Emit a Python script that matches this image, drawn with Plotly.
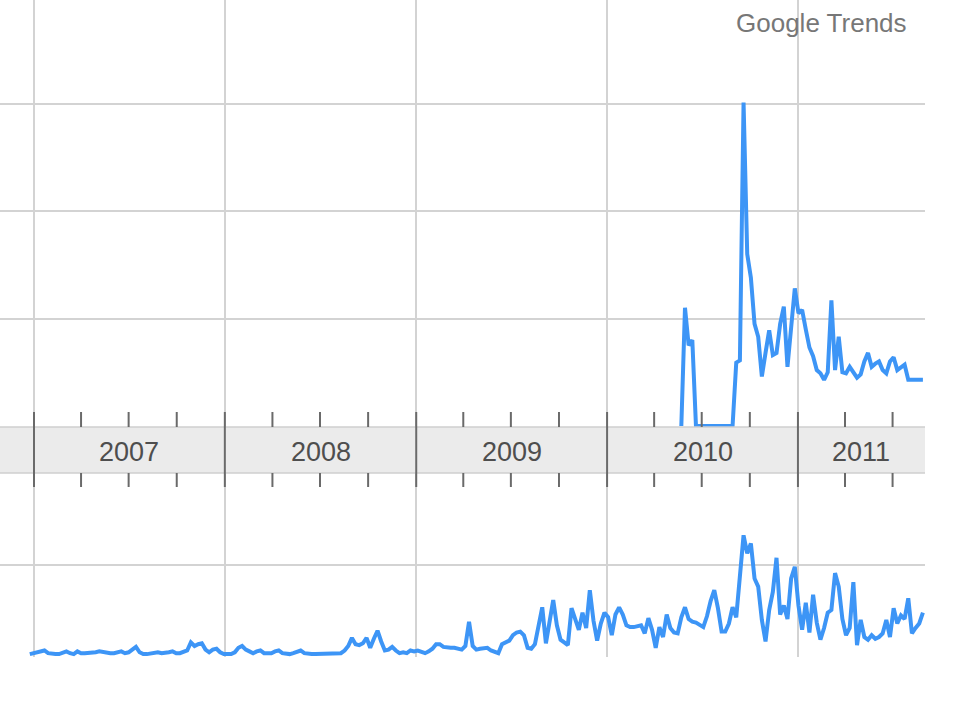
import pandas as pd
import plotly.graph_objects as go

# ---------------- data ----------------
NEWS_START = "2006-12-24"          # weekly series (news reference volume)
news_values = [
    # 2007
    0.01, 0.02, 0.02, 0.03, 0.05, 0.02, 0.01, 0.01, 0.01, 0.02,
    0.04, 0.02, 0.01, 0.04, 0.02, 0.02, 0.02, 0.03, 0.03, 0.04,
    0.03, 0.02, 0.02, 0.02, 0.03, 0.04, 0.02, 0.03, 0.06, 0.09,
    0.03, 0.01, 0.01, 0.02, 0.02, 0.03, 0.02, 0.02, 0.03, 0.04,
    0.02, 0.02, 0.03, 0.05, 0.14, 0.10, 0.12, 0.13, 0.06, 0.03,
    0.06, 0.07, 0.03, 0.01,
    # 2008
    0.01, 0.01, 0.03, 0.08, 0.10, 0.06, 0.04, 0.02, 0.04, 0.05,
    0.02, 0.02, 0.02, 0.04, 0.05, 0.02, 0.01, 0.01, 0.02, 0.04,
    0.05, 0.02, 0.01, 0.01, 0.01, 0.01, 0.01, 0.02, 0.01, 0.01,
    0.02, 0.02, 0.05, 0.10, 0.19, 0.12, 0.11, 0.13, 0.19, 0.08,
    0.18, 0.27, 0.15, 0.05, 0.06, 0.09, 0.05, 0.02, 0.03, 0.02,
    0.05, 0.04,
    # 2009
    0.05, 0.04, 0.02, 0.04, 0.07, 0.12, 0.12, 0.09, 0.08, 0.08,
    0.08, 0.07, 0.06, 0.10, 0.37, 0.10, 0.06, 0.07, 0.08, 0.08,
    0.05, 0.03, 0.02, 0.12, 0.14, 0.16, 0.22, 0.25, 0.26, 0.22,
    0.08, 0.07, 0.12, 0.31, 0.53, 0.13, 0.35, 0.61, 0.33, 0.17,
    0.14, 0.11, 0.52, 0.40, 0.28, 0.47, 0.30, 0.72, 0.38, 0.16,
    0.35, 0.47,
    # 2010
    0.42, 0.22, 0.45, 0.53, 0.45, 0.33, 0.31, 0.31, 0.32, 0.33,
    0.24, 0.41, 0.28, 0.08, 0.31, 0.20, 0.45, 0.30, 0.25, 0.24,
    0.42, 0.53, 0.40, 0.37, 0.36, 0.33, 0.31, 0.43, 0.60, 0.72,
    0.52, 0.26, 0.26, 0.35, 0.53, 0.42, 0.90, 1.33, 1.13, 1.24,
    0.85, 0.76, 0.39, 0.15, 0.50, 0.70, 1.08, 0.45, 0.55, 0.40,
    0.85, 0.98,
    # 2011
    0.55, 0.28, 0.58, 0.25, 0.67, 0.36, 0.17, 0.30, 0.47, 0.50,
    0.91, 0.76, 0.40, 0.22, 0.30, 0.81, 0.11, 0.39, 0.20, 0.17,
    0.22, 0.18, 0.20, 0.24, 0.39, 0.20, 0.52, 0.35, 0.44, 0.40,
    0.63, 0.24, 0.30, 0.35, 0.47,
]

SEARCH_START = "2010-05-23"        # weekly series (search volume index)
search_values = [
    0.00, 1.10, 0.75, 0.80, 0.00,
    0.00, 0.00, 0.00, 0.00, 0.00, 0.00, 0.00, 0.00, 0.00, 0.00,
    0.59, 0.61, 3.01, 1.60, 1.38, 0.95, 0.83, 0.46, 0.68, 0.89,
    0.66, 0.68, 0.95, 1.11, 0.55, 0.90, 1.28, 1.05, 1.08, 0.90,
    0.73, 0.65, 0.52, 0.49, 0.43, 0.50, 1.17, 0.52, 0.83, 0.50,
    0.49, 0.55, 0.50, 0.45, 0.48, 0.60, 0.68, 0.55, 0.58, 0.60,
    0.52, 0.49, 0.60, 0.64, 0.52, 0.55, 0.57, 0.43, 0.43, 0.43,
    0.43, 0.43,
]

years = [2007, 2008, 2009, 2010, 2011]
minor_months = [4, 7, 10]
X_RANGE = ["2006-10-28", "2011-09-01"]

news_dates = pd.date_range(NEWS_START, periods=len(news_values), freq="7D")
search_dates = pd.date_range(SEARCH_START, periods=len(search_values), freq="7D")

# ---------------- style ----------------
W, H = 960, 720
BLUE = "#3d95f6"
GRID = "#d3d3d3"
TICK = "#6a6a6a"
BAND = "#ebebeb"
FONT = "Liberation Sans, Arial, sans-serif"

def py(px):  # pixel from top -> paper fraction
    return (H - px) / H

x_right = 925 / W
band_top, band_bot = 427, 473
tick_top, tick_bot = 412, 487

fig = go.Figure()
fig.add_trace(go.Scatter(x=search_dates, y=search_values, xaxis="x", yaxis="y",
                         mode="lines", line=dict(color=BLUE, width=4),
                         hoverinfo="skip"))
fig.add_trace(go.Scatter(x=news_dates, y=news_values, xaxis="x2", yaxis="y2",
                         mode="lines", line=dict(color=BLUE, width=4),
                         hoverinfo="skip"))

xcommon = dict(type="date", range=X_RANGE, domain=[0, x_right],
               showgrid=True, gridcolor=GRID, gridwidth=2,
               dtick="M12", tick0="2007-01-01", showticklabels=False,
               ticks="", zeroline=False, showline=False, fixedrange=True)

shapes = []
# middle time band
shapes.append(dict(type="rect", xref="paper", yref="paper", x0=0, x1=x_right,
                   y0=py(band_bot), y1=py(band_top), fillcolor=BAND,
                   line=dict(width=0), layer="below"))
for yb in (band_top, band_bot):
    shapes.append(dict(type="line", xref="paper", yref="paper", x0=0, x1=x_right,
                       y0=py(yb), y1=py(yb), line=dict(color="#cfcfcf", width=1.5)))

end_ts = pd.Timestamp(X_RANGE[1])
start_ts = pd.Timestamp(X_RANGE[0])
for yr in years:
    shapes.append(dict(type="line", xref="x", yref="paper",
                       x0=f"{yr}-01-01", x1=f"{yr}-01-01",
                       y0=py(tick_bot), y1=py(tick_top),
                       line=dict(color=TICK, width=2)))
    for m in minor_months:
        d = pd.Timestamp(year=yr, month=m, day=1)
        if d > end_ts:
            continue
        for a, b in ((tick_top, band_top), (band_bot, tick_bot)):
            shapes.append(dict(type="line", xref="x", yref="paper",
                               x0=d.strftime("%Y-%m-%d"), x1=d.strftime("%Y-%m-%d"),
                               y0=py(b), y1=py(a),
                               line=dict(color=TICK, width=2)))

annotations = []
for yr in years:
    a = max(pd.Timestamp(year=yr, month=1, day=1), start_ts)
    b = min(pd.Timestamp(year=yr + 1, month=1, day=1), end_ts)
    mid = a + (b - a) / 2
    annotations.append(dict(xref="x", yref="paper", x=mid.strftime("%Y-%m-%d %H:%M"),
                            y=py(452), text=str(yr), showarrow=False,
                            xanchor="center", yanchor="middle",
                            font=dict(family=FONT, size=27, color="#4e4e4e")))
annotations.append(dict(xref="paper", yref="paper", x=909 / W, y=py(23),
                        text="Google Trends", showarrow=False,
                        xanchor="right", yanchor="middle",
                        font=dict(family=FONT, size=26, color="#777777")))

fig.update_layout(
    width=W, height=H,
    margin=dict(l=0, r=0, t=0, b=0),
    paper_bgcolor="white", plot_bgcolor="white",
    showlegend=False,
    xaxis=dict(**xcommon, anchor="y"),
    xaxis2=dict(**xcommon, anchor="y2", matches="x"),
    yaxis=dict(domain=[py(band_top), 1], range=[-0.0093, 3.963],
               tickvals=[0, 1, 2, 3], showgrid=True, gridcolor=GRID, gridwidth=2,
               showticklabels=False, zeroline=False, fixedrange=True),
    yaxis2=dict(domain=[py(657), py(band_bot)], range=[-0.0222, 2.022],
                tickvals=[1], showgrid=True, gridcolor=GRID, gridwidth=2,
                showticklabels=False, zeroline=False, fixedrange=True),
    shapes=shapes,
    annotations=annotations,
)

fig.write_html("out.html", config={"displayModeBar": False},
               post_script="document.body.style.margin='0px';")
